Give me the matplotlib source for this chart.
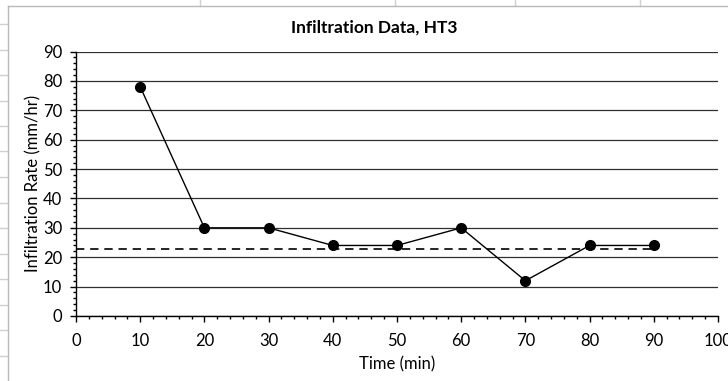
import matplotlib
matplotlib.use("Agg")
import matplotlib.pyplot as plt
from matplotlib.lines import Line2D
from matplotlib.ticker import MultipleLocator

# ---- data ----
time_min = [10, 20, 30, 40, 50, 60, 70, 80, 90]
infiltration_rate = [78, 30, 30, 24, 24, 30, 12, 24, 24]
avg_x = [0, 90]
avg_rate = [22.8, 22.8]
title = "Infiltration Data, HT3"
xlabel = "Time (min)"
ylabel = "Infiltration Rate (mm/hr)"

plt.rcParams['font.family'] = ['Lato', 'DejaVu Sans']

W, H = 728, 381
fig = plt.figure(figsize=(W / 100, H / 100), dpi=100)
fig.patch.set_facecolor('white')

def fx(px):
    return px / W

def fy(py):
    return 1 - py / H

# spreadsheet background gridlines outside chart
grid_c = '#d0d0d0'
for py in [24, 49.5, 75, 100.5, 126, 151.5, 177, 202.5, 228, 253.5, 279, 304.5, 330, 355.5]:
    fig.add_artist(Line2D([0, fx(8)], [fy(py), fy(py)], color=grid_c, lw=1.0))
for px in [200, 395, 515, 640]:
    fig.add_artist(Line2D([fx(px), fx(px)], [fy(0), fy(6)], color=grid_c, lw=1.0))
# chart area border
border_c = '#b8b8b8'
fig.add_artist(Line2D([fx(8), fx(8)], [fy(6), 0], color=border_c, lw=1.0))
fig.add_artist(Line2D([fx(8), 1], [fy(6), fy(6)], color=border_c, lw=1.0))

ax = fig.add_axes([fx(76), fy(316), fx(718) - fx(76), fy(51.5) - fy(316)])
ax.set_facecolor('white')

ax.set_xlim(0, 100)
ax.set_ylim(0, 90)
ax.xaxis.set_major_locator(MultipleLocator(10))
ax.xaxis.set_minor_locator(MultipleLocator(2))
ax.yaxis.set_major_locator(MultipleLocator(10))
ax.yaxis.set_minor_locator(MultipleLocator(2))

for sp in ['top', 'right']:
    ax.spines[sp].set_visible(False)
for sp in ['left', 'bottom']:
    ax.spines[sp].set_color('black')
    ax.spines[sp].set_linewidth(1.0)

ax.yaxis.grid(True, which='major', color='#303030', lw=0.9)
ax.set_axisbelow(True)

fs = 12
ax.tick_params(axis='x', which='major', direction='out', length=4, width=1, pad=8,
               labelsize=fs, colors='black')
ax.tick_params(axis='x', which='minor', direction='out', length=2.5, width=1)
ax.tick_params(axis='y', which='major', direction='out', length=4, width=1, pad=6,
               labelsize=fs, colors='black')
ax.tick_params(axis='y', which='minor', direction='out', length=2.5, width=1)

ax.plot(avg_x, avg_rate, color='black', lw=1.2, dashes=(5, 3.5), zorder=3)
ax.plot(time_min, infiltration_rate, color='black', lw=1.0, marker='o',
        markersize=7, markerfacecolor='black', markeredgecolor='black', zorder=4)

ax.set_xlabel(xlabel, fontsize=fs, labelpad=5.5)
ax.set_ylabel(ylabel, fontsize=fs, labelpad=1)
fig.text(fx(374.5), fy(28), title, fontsize=12.5, fontweight='bold',
         ha='center', va='center')

fig.savefig('out.png', dpi=100)
